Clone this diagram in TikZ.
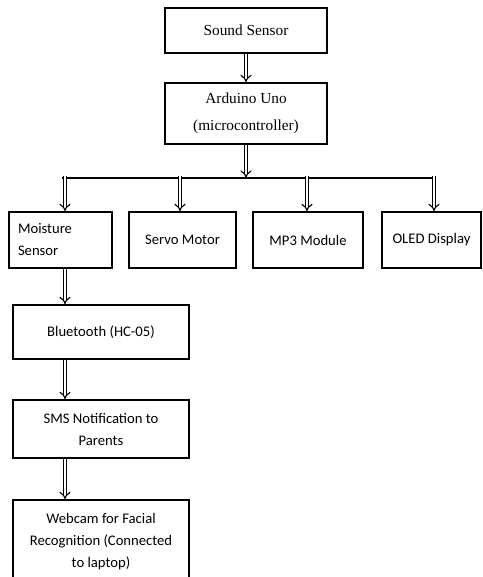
\documentclass[tikz,border=0pt]{standalone}
\usepackage{fontspec}
\setmainfont{Carlito}
\newfontfamily\camfont{Liberation Serif}
\usetikzlibrary{arrows.meta}

\tikzset{
  blk/.style={draw, line width=1pt, inner sep=2pt, align=center,
    font=\fontsize{11}{16.5}\selectfont},
  dbl/.style={draw=black, double=white, double distance=2pt, line width=0.85pt, -{Implies}},
}

\begin{document}
\begin{tikzpicture}[x=0.75pt,y=-0.75pt]
\useasboundingbox (0,0) rectangle (482,577);
% top chain
\node[blk, minimum width=121.5pt, minimum height=33.75pt, font=\camfont\fontsize{11.5}{20}\selectfont] (snd) at (246,30.5) {Sound Sensor};
\node[blk, minimum width=121.5pt, minimum height=45.75pt, font=\camfont\fontsize{11.5}{20}\selectfont] (ard) at (246,113.5) {Arduino Uno\\(microcontroller)};
\draw[dbl] (snd) -- (ard);
\coordinate (bus) at (246,178);
\draw[dbl] (ard) -- (bus);
% bus line
\coordinate (busL) at (62,178);
\coordinate (busR) at (435,178);
\draw[line width=1pt] (busL) -- (busR);
\coordinate (d1) at (65,176);
\coordinate (d2) at (180,176);
\coordinate (d3) at (307,176);
\coordinate (d4) at (434,176);
% outputs
\node[blk, align=left, inner xsep=6.75pt, text width=63.75pt, minimum height=42pt] (mst) at (60.5,240) {Moisture\\Sensor};
\node[blk, minimum width=80.25pt, minimum height=42pt] (srv) at (182.5,240) {Servo Motor};
\node[blk, minimum width=82.5pt, minimum height=42pt] (mp3) at (308,240) {MP3 Module};
\node[blk, minimum width=74.25pt, minimum height=42pt] (old) at (431.5,240) {OLED Display};
\draw[dbl] (d1) -- (d1 |- mst.north);
\draw[dbl] (d2) -- (d2 |- srv.north);
\draw[dbl] (d3) -- (d3 |- mp3.north);
\draw[dbl] (d4) -- (d4 |- old.north);
% lower chain
\node[blk, minimum width=132pt, minimum height=40.5pt] (bt) at (101,332) {Bluetooth (HC-05)};
\node[blk, minimum width=132pt, minimum height=43.5pt] (sms) at (101,429) {SMS Notification to\\Parents};
\node[blk, minimum width=132pt, minimum height=63pt] (cam) at (101,542) {Webcam for Facial\\Recognition (Connected\\to laptop)};
\draw[dbl] (mst.south -| d1) -- (bt.north -| d1);
\draw[dbl] (bt.south -| d1) -- (sms.north -| d1);
\draw[dbl] (sms.south -| d1) -- (cam.north -| d1);
\end{tikzpicture}
\end{document}
